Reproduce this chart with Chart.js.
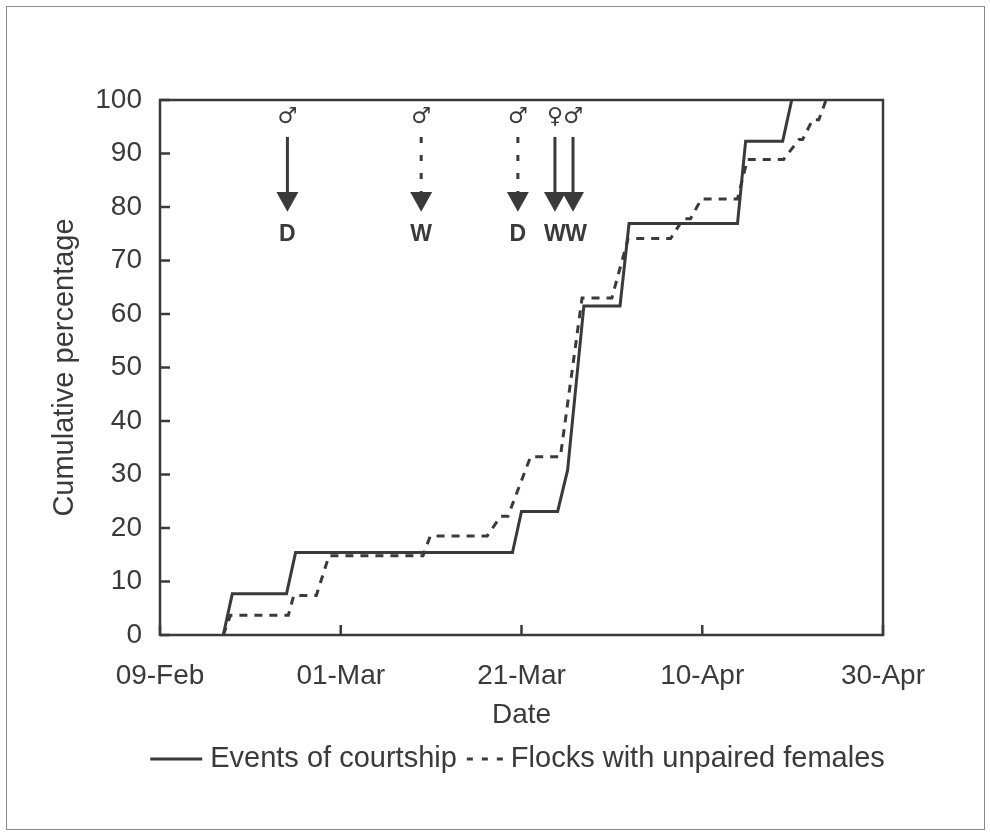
<!DOCTYPE html>
<html>
<head>
<meta charset="utf-8">
<script src="https://cdn.jsdelivr.net/npm/chart.js@4.4.1/dist/chart.umd.min.js"></script>
<style>
  html, body { margin: 0; padding: 0; background: #fff; }
  #wrap { width: 990px; height: 833px; position: relative; }
</style>
</head>
<body>
<div id="wrap"><canvas id="myChart"></canvas></div>
<script>
// days counted from 09-Feb
const dateTickDays = [0, 20, 40, 60, 80]
const dateLabels = ['09-Feb', '01-Mar', '21-Mar', '10-Apr', '30-Apr']

// Events of courtship (solid)
const courtshipDays = [7, 8, 14, 15, 39, 40, 44, 45.1, 46.9, 50.9, 51.9, 63.9, 64.8, 68.9, 69.9]
const courtshipPct  = [0, 7.7, 7.7, 15.4, 15.4, 23.1, 23.1, 30.8, 61.5, 61.5, 76.9, 76.9, 92.3, 92.3, 100]

// Flocks with unpaired females (dashed)
const flockDays = [7, 7.8, 14.2, 14.8, 17.3, 18.7, 29.1, 29.9, 36.2, 37.7, 38.5, 41, 44.3, 46.7, 50, 51.8,
                   56.5, 57.9, 58.7, 59.9, 63.9, 65, 69, 70.7, 71.1, 72.2, 72.9, 73.7]
const flockPct  = [0, 3.7, 3.7, 7.4, 7.4, 14.8, 14.8, 18.5, 18.5, 22.2, 22.2, 33.3, 33.3, 63.0, 63.0, 74.1,
                   74.1, 77.8, 77.8, 81.5, 81.5, 88.9, 88.9, 92.6, 92.6, 96.3, 96.3, 100]

// arrows on top of the plot
const arrowDays   = [14.1, 28.9, 39.6, 43.7, 45.7]
const arrowSex    = ['\u2642', '\u2642', '\u2642', '\u2640', '\u2642']
const arrowLabels = ['D', 'W', 'D', 'W', 'W']
const arrowDotted = [false, true, true, false, false]

const ink = '#3a3a3a'
const fontFamily = "'Liberation Sans', Arial, Helvetica, sans-serif"

function toPoints(xs, ys) {
    return xs.map((x, i) => ({x: x, y: ys[i]}))
}

const decorations = {
    id: 'decorations',
    beforeDraw(chart) {
        const ctx = chart.ctx
        ctx.save()
        ctx.fillStyle = '#fff'
        ctx.fillRect(0, 0, chart.width, chart.height)
        ctx.strokeStyle = '#8a8a8a'
        ctx.lineWidth = 1
        ctx.strokeRect(6.5, 6.5, 978, 823)
        ctx.restore()
    },
    afterDatasetsDraw(chart) {
        const ctx = chart.ctx
        const a = chart.chartArea
        const xs = chart.scales.x, ys = chart.scales.y
        ctx.save()
        // plot box
        ctx.strokeStyle = ink
        ctx.lineWidth = 2.5
        ctx.setLineDash([])
        ctx.strokeRect(a.left, a.top, a.right - a.left, a.bottom - a.top)
        // inward ticks
        ys.ticks.forEach(t => {
            const y = ys.getPixelForValue(t.value)
            ctx.beginPath(); ctx.moveTo(a.left, y); ctx.lineTo(a.left + 10, y); ctx.stroke()
        })
        xs.ticks.forEach(t => {
            const x = xs.getPixelForValue(t.value)
            ctx.beginPath(); ctx.moveTo(x, a.bottom); ctx.lineTo(x, a.bottom - 10); ctx.stroke()
        })
        // arrows
        ctx.fillStyle = ink
        ctx.textAlign = 'center'
        ctx.textBaseline = 'middle'
        arrowDays.forEach((d, i) => {
            const x = xs.getPixelForValue(d)
            const ySym = ys.getPixelForValue(96.8)
            const yTop = ys.getPixelForValue(93.1)
            const yHead = ys.getPixelForValue(82.8)
            const yTip = ys.getPixelForValue(79.1)
            const yLab = ys.getPixelForValue(74.9)
            ctx.font = "22px 'DejaVu Sans', sans-serif"
            ctx.fillText(arrowSex[i], x, ySym)
            ctx.lineWidth = 3
            ctx.setLineDash(arrowDotted[i] ? [6, 12] : [])
            ctx.beginPath(); ctx.moveTo(x, yTop); ctx.lineTo(x, yHead); ctx.stroke()
            ctx.setLineDash([])
            ctx.beginPath()
            ctx.moveTo(x - 11, yHead); ctx.lineTo(x + 11, yHead); ctx.lineTo(x, yTip)
            ctx.closePath(); ctx.fill()
            ctx.font = 'bold 23px ' + fontFamily
            ctx.fillText(arrowLabels[i], x + (i === 4 ? 3 : 0), yLab)
        })
        // legend
        const ds = chart.data.datasets
        ctx.font = '29px ' + fontFamily
        ctx.textAlign = 'left'
        const w0 = ctx.measureText(ds[0].label).width
        const w1 = ctx.measureText(ds[1].label).width
        const total = 52 + 8 + w0 + 10 + 36 + 8 + w1
        let x = (a.left + a.right) / 2 - 4 - total / 2
        const y = 759
        ctx.lineWidth = 3
        ctx.setLineDash([])
        ctx.beginPath(); ctx.moveTo(x, y); ctx.lineTo(x + 52, y); ctx.stroke()
        x += 60
        ctx.fillText(ds[0].label, x, y)
        x += w0 + 10
        ctx.setLineDash([6, 9])
        ctx.beginPath(); ctx.moveTo(x, y); ctx.lineTo(x + 36, y); ctx.stroke()
        ctx.setLineDash([])
        x += 44
        ctx.fillText(ds[1].label, x, y)
        ctx.restore()
    }
}

const config = {
    type: 'line',
    data: {
        datasets: [
            {
                label: 'Events of courtship',
                data: toPoints(courtshipDays, courtshipPct),
                borderColor: ink,
                borderWidth: 3,
                pointRadius: 0,
                tension: 0
            },
            {
                label: 'Flocks with unpaired females',
                data: toPoints(flockDays, flockPct),
                borderColor: ink,
                borderWidth: 3,
                borderDash: [8, 7],
                pointRadius: 0,
                tension: 0
            }
        ]
    },
    options: {
        responsive: true,
        maintainAspectRatio: false,
        animation: false,
        layout: { padding: { left: 48, top: 100, right: 107, bottom: 101 } },
        plugins: {
            legend: { display: false },
            tooltip: { enabled: false }
        },
        scales: {
            x: {
                type: 'linear',
                min: 0,
                max: 80,
                afterBuildTicks: s => { s.ticks = dateTickDays.map(v => ({value: v})) },
                afterFit: s => { s.height = 97 },
                grid: { display: false, drawTicks: false },
                border: { display: false },
                ticks: {
                    padding: 24,
                    maxRotation: 0,
                    autoSkip: false,
                    color: ink,
                    font: { family: fontFamily, size: 28 },
                    callback: v => dateLabels[dateTickDays.indexOf(v)]
                },
                title: {
                    display: true,
                    text: 'Date',
                    color: ink,
                    padding: 0,
                    font: { family: fontFamily, size: 28 }
                }
            },
            y: {
                min: 0,
                max: 100,
                afterFit: s => { s.width = 112 },
                grid: { display: false, drawTicks: false },
                border: { display: false },
                ticks: {
                    stepSize: 10,
                    padding: 18,
                    color: ink,
                    font: { family: fontFamily, size: 28 }
                },
                title: {
                    display: true,
                    text: 'Cumulative percentage',
                    color: ink,
                    padding: 0,
                    font: { family: fontFamily, size: 29 }
                }
            }
        }
    },
    plugins: [decorations]
}

var myChart = new Chart(document.getElementById('myChart'), config)
</script>
</body>
</html>
